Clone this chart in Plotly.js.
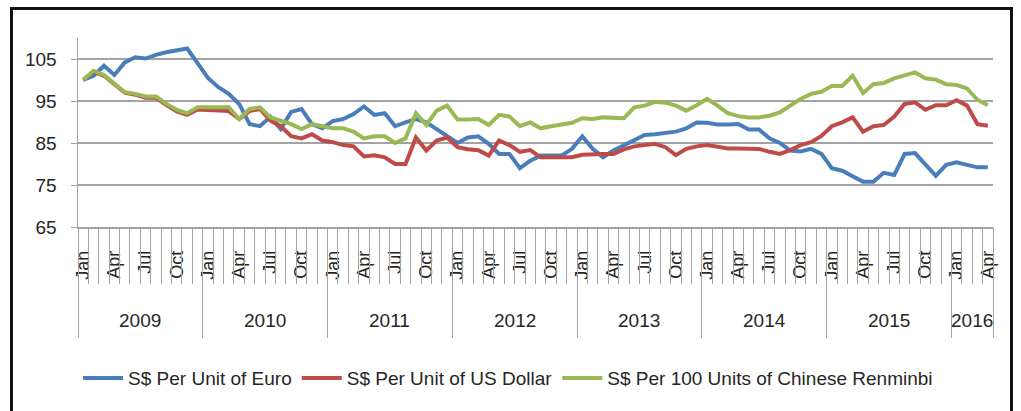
<!DOCTYPE html>
<html>
<head>
<meta charset="utf-8">
<script src="https://cdn.plot.ly/plotly-3.0.1.min.js"></script>
<style>
  html, body { margin: 0; padding: 0; background: #fff; width: 1021px; height: 411px; overflow: hidden; }
  #frame { position: absolute; left: 10px; top: 7px; width: 1003px; height: 420px; border: 3px solid #111; box-sizing: border-box; pointer-events: none; z-index: 5; }
  #chart { position: absolute; left: 0; top: 0; width: 1021px; height: 411px; }
</style>
</head>
<body>
<div id="chart"></div>
<div id="frame"></div>
<script>
// ---- data ----
const years = [2009, 2010, 2011, 2012, 2013, 2014, 2015, 2016];
const monthNames = ['Jan','Feb','Mar','Apr','May','Jun','Jul','Aug','Sep','Oct','Nov','Dec'];
const labelledMonths = ['Jan','Apr','Jul','Oct'];
const lastYearMonths = 4; // data ends Apr 2016

const euro = [
  100, 101, 103.4, 101.2, 104.2, 105.4, 105.1, 106, 106.6, 107, 107.5, 104,
  100.5, 98.3, 96.7, 94.3, 89.5, 89, 91.2, 88.3, 92.4, 93.1, 89.5, 88.5,
  90.2, 90.7, 91.9, 93.7, 91.7, 92.1, 89, 89.9, 90.7, 89.9, 88.3, 86.7,
  85, 86.3, 86.6, 84.8, 82.4, 82.4, 79, 80.8, 82, 82, 82, 83.6,
  86.6, 83.6, 81.6, 83.2, 84.5, 85.6, 86.9, 87.1, 87.5, 87.7, 88.5, 89.9,
  89.8, 89.4, 89.4, 89.5, 88.2, 88.2, 86.1, 85, 83.2, 83, 83.6, 82.4,
  79, 78.4, 77.1, 75.8, 75.8, 77.9, 77.4, 82.4, 82.6, 79.8, 77.2, 79.8,
  80.4, 79.8, 79.2, 79.2
];
const usd = [
  100, 102, 101, 99, 97, 96.5, 95.8, 95.8, 94, 92.5, 91.7, 93,
  92.9, 92.9, 92.6, 90.7, 92.6, 93.1, 90.3, 89, 86.6, 86.1, 87.1, 85.6,
  85.2, 84.5, 84.2, 81.8, 82.1, 81.6, 80, 80, 86.3, 83.2, 85.6, 86.3,
  84, 83.5, 83.3, 82, 85.6, 84.5, 82.9, 83.3, 81.6, 81.6, 81.6, 81.6,
  82.2, 82.4, 82.4, 82.4, 83.5, 84.2, 84.5, 84.8, 84, 82.1, 83.6, 84.2,
  84.5, 84.2, 83.7, 83.7, 83.6, 83.6, 82.9, 82.4, 83.3, 84.5, 85.2, 86.7,
  89, 89.9, 91.1, 87.7, 89, 89.3, 91.3, 94.3, 94.7, 92.9, 94, 94,
  95.2, 93.9, 89.5, 89.1
];
const cny = [
  100, 102.2, 101.2, 99, 97.1, 96.7, 96.1, 96.1, 94.3, 92.9, 92.1, 93.5,
  93.5, 93.5, 93.5, 90.7, 93.1, 93.5, 91.1, 90.3, 89.5, 88.3, 89.5, 89,
  88.5, 88.5, 87.7, 86.1, 86.6, 86.6, 85, 86.1, 92.1, 89.3, 92.7, 93.9,
  90.6, 90.6, 90.7, 89.3, 91.7, 91.3, 89, 89.9, 88.5, 89, 89.5, 89.8,
  90.9, 90.7, 91.1, 90.9, 90.9, 93.5, 93.9, 94.8, 94.6, 93.9, 92.7, 94,
  95.5, 93.9, 92.1, 91.4, 91.1, 91.1, 91.5, 92.3, 94, 95.5, 96.7, 97.2,
  98.6, 98.6, 101, 96.9, 99, 99.3, 100.4, 101.2, 101.8, 100.4, 100.1, 99,
  98.8, 98, 95.3, 94
];
const seriesNames = [
  'S$ Per Unit of Euro',
  'S$ Per Unit of US Dollar',
  'S$ Per 100 Units of Chinese Renminbi'
];
const yTicks = [65, 75, 85, 95, 105];

// ---- build categories ----
const cats = [];
years.forEach((y, yi) => {
  const n = (yi === years.length - 1) ? lastYearMonths : 12;
  for (let m = 0; m < n; m++) cats.push({ year: y, month: monthNames[m] });
});
const xIdx = cats.map((c, i) => i);
const N = cats.length;

const tickVals = [], tickText = [];
cats.forEach((c, i) => { if (labelledMonths.includes(c.month)) { tickVals.push(i); tickText.push(c.month); } });

const boundaries = [];
for (let i = 0; i <= N; i++) boundaries.push(i - 0.5);

const yearBounds = [], annotations = [];
years.forEach(y => {
  const idx = xIdx.filter(i => cats[i].year === y);
  const first = idx[0], last = idx[idx.length - 1];
  yearBounds.push(first - 0.5);
  annotations.push({
    x: (first + last) / 2, xref: 'x', y: 0, yref: 'paper', yshift: -93,
    text: String(y), showarrow: false, xanchor: 'center', yanchor: 'middle',
    font: { family: 'Liberation Sans, Arial, sans-serif', size: 19, color: '#262626' }
  });
});
yearBounds.push(N - 0.5);

const colors = ['#4A7EBB', '#BE4B48', '#98B954'];
const vals = [euro, usd, cny];
const traces = vals.map((v, k) => ({
  x: xIdx, y: v, type: 'scatter', mode: 'lines', name: seriesNames[k],
  line: { color: colors[k], width: 4 }, xaxis: 'x', yaxis: 'y'
}));

const gray = '#a3a3a3';
const font = 'Liberation Sans, Arial, sans-serif';
const layout = {
  width: 1021, height: 411,
  margin: { l: 78, r: 28, t: 38, b: 184 },
  paper_bgcolor: '#fff', plot_bgcolor: '#fff',
  showlegend: true,
  legend: {
    orientation: 'h', x: 0.47, xanchor: 'center', y: -0.8, yanchor: 'middle',
    font: { family: font, size: 19, color: '#262626' }, itemwidth: 40, traceorder: 'normal'
  },
  xaxis: {
    range: [-0.5, N - 0.5], tickmode: 'array', tickvals: tickVals, ticktext: tickText,
    tickangle: -90, ticks: '', showgrid: false, zeroline: false,
    showline: true, linecolor: gray, linewidth: 1.5,
    ticklabelstandoff: 15,
    tickfont: { family: font, size: 18, color: '#262626' }
  },
  xaxis2: {
    overlaying: 'x', anchor: 'y', side: 'bottom', range: [-0.5, N - 0.5],
    tickmode: 'array', tickvals: boundaries, ticks: 'outside', ticklen: 56,
    tickcolor: gray, tickwidth: 1, showticklabels: false, showgrid: false,
    zeroline: false, showline: false
  },
  xaxis3: {
    overlaying: 'x', anchor: 'y', side: 'bottom', range: [-0.5, N - 0.5],
    tickmode: 'array', tickvals: yearBounds, ticks: 'outside', ticklen: 110,
    tickcolor: gray, tickwidth: 1, showticklabels: false, showgrid: false,
    zeroline: false, showline: false
  },
  yaxis: {
    range: [65, 110], tickmode: 'array', tickvals: yTicks, ticktext: yTicks.map(String),
    showgrid: true, gridcolor: gray, gridwidth: 2, zeroline: false,
    showline: true, linecolor: gray, linewidth: 1.5,
    ticks: 'outside', ticklen: 6, tickcolor: gray, ticklabelstandoff: 10,
    tickfont: { family: font, size: 19, color: '#262626' }
  },
  annotations: annotations
};

// dummy traces so overlay axes are rendered
traces.push({ x: [0], y: [null], xaxis: 'x2', yaxis: 'y', showlegend: false, hoverinfo: 'skip', mode: 'lines' });
traces.push({ x: [0], y: [null], xaxis: 'x3', yaxis: 'y', showlegend: false, hoverinfo: 'skip', mode: 'lines' });

Plotly.newPlot('chart', traces, layout, { displayModeBar: false, staticPlot: true });
</script>
</body>
</html>
